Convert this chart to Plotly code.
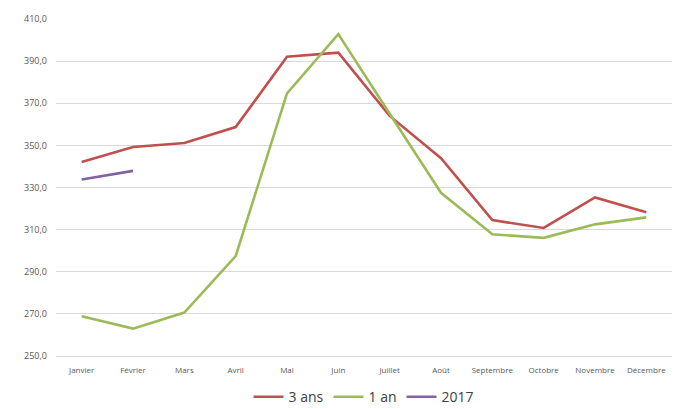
import plotly.graph_objects as go

months = ["Janvier", "Février", "Mars", "Avril", "Mai", "Juin", "Juillet",
          "Août", "Septembre", "Octobre", "Novembre", "Décembre"]
trois_ans = [342.1, 349.2, 351.1, 358.7, 392.1, 394.0, 364.0, 343.9, 314.5, 310.8, 325.3, 318.2]
un_an = [268.9, 263.0, 270.6, 297.4, 374.7, 402.8, 365.0, 327.5, 307.8, 306.1, 312.5, 315.8]
annee_2017 = [333.8, 337.9]
y_ticks = [250, 270, 290, 310, 330, 350, 370, 390, 410]

fig = go.Figure()
fig.add_trace(go.Scatter(x=months, y=trois_ans, name="3 ans", mode="lines",
                         line=dict(color="#C0504D", width=2.6)))
fig.add_trace(go.Scatter(x=months, y=un_an, name="1 an", mode="lines",
                         line=dict(color="#9BBB59", width=2.6)))
fig.add_trace(go.Scatter(x=months[:len(annee_2017)], y=annee_2017, name="2017", mode="lines",
                         line=dict(color="#8064A2", width=2.6)))

fig.update_layout(
    width=685, height=409,
    margin=dict(l=56, r=13, t=19, b=53, autoexpand=False),
    paper_bgcolor="white", plot_bgcolor="white",
    separators=", ",
    font=dict(family="Open Sans, Liberation Sans, sans-serif", color="#595959"),
    legend=dict(orientation="h", x=0.5, xanchor="center",
                y=-0.122, yanchor="middle",
                font=dict(size=14, color="#404040"), itemwidth=30,
                tracegroupgap=0),
    xaxis=dict(showgrid=False, showline=True, linecolor="#d9d9d9", linewidth=1,
               ticks="", tickfont=dict(size=8), range=[-0.5, 11.5],
               ticklabelstandoff=6),
    yaxis=dict(range=[250, 410], tickvals=y_ticks, tickformat=".1f",
               showgrid=True, gridcolor="#d9d9d9", gridwidth=1,
               zeroline=False, ticks="", tickfont=dict(size=9),
               ticklabelstandoff=8),
)

fig.write_html("out.html")
